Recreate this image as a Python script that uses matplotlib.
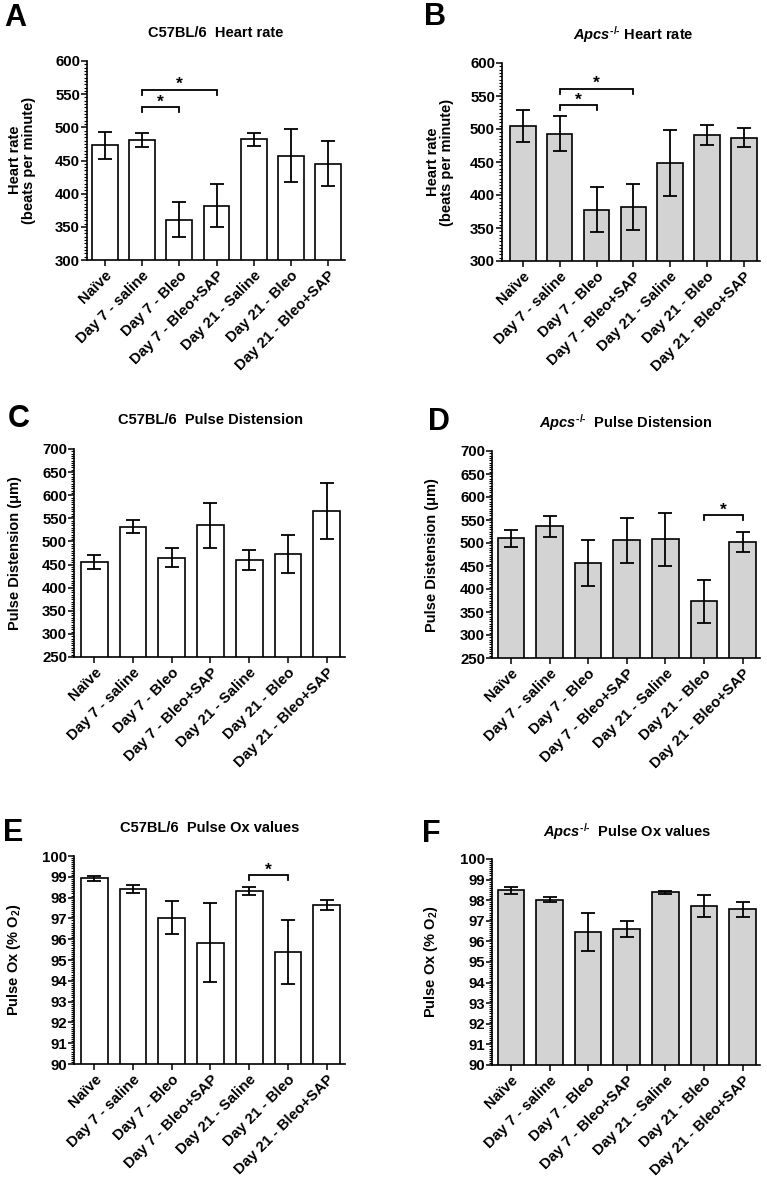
import numpy as np
import matplotlib
matplotlib.use('Agg')
import matplotlib.pyplot as plt
from matplotlib.ticker import MultipleLocator

plt.rcParams['font.family'] = ['Liberation Sans', 'DejaVu Sans']
plt.rcParams['font.weight'] = 'bold'
plt.rcParams['mathtext.fontset'] = 'custom'
plt.rcParams['mathtext.rm'] = 'Liberation Sans:bold'
plt.rcParams['mathtext.it'] = 'Liberation Sans:bold:italic'
plt.rcParams['mathtext.bf'] = 'Liberation Sans:bold'

# grupos
groups = ['Naïve', 'Day 7 - saline', 'Day 7 - Bleo', 'Day 7 - Bleo+SAP',
          'Day 21 - Saline', 'Day 21 - Bleo', 'Day 21 - Bleo+SAP']

# heart rate (beats per minute)
hr_c57 = [473, 481, 361, 382, 482, 457, 445]
hr_c57_err = [20, 11, 27, 32, 10, 40, 34]
hr_apcs = [505, 493, 378, 382, 448, 491, 487]
hr_apcs_err = [24, 27, 34, 35, 50, 15, 14]

# pulse distension (um)
pd_c57 = [455, 532, 465, 535, 460, 472, 566]
pd_c57_err = [15, 14, 20, 49, 21, 41, 60]
pd_apcs = [510, 536, 456, 506, 508, 373, 503]
pd_apcs_err = [18, 22, 50, 49, 57, 46, 22]

# pulse ox (% O2)
ox_c57 = [98.93, 98.43, 97.03, 95.84, 98.32, 95.40, 97.64]
ox_c57_err = [0.12, 0.19, 0.79, 1.89, 0.18, 1.53, 0.23]
ox_apcs = [98.48, 98.02, 96.45, 96.58, 98.39, 97.72, 97.55]
ox_apcs_err = [0.16, 0.12, 0.94, 0.39, 0.08, 0.54, 0.35]

# significancia: (grupo i, grupo j, altura)
sig_a = [(1, 2, 531), (1, 3, 557)]
sig_b = [(1, 2, 536), (1, 3, 561)]
sig_c = []
sig_d = [(5, 6, 561)]
sig_e = [(4, 5, 99.09)]
sig_f = []

W, H = 767, 1179
fig = plt.figure(figsize=(W / 100, H / 100), dpi=100)


def rect(l, r, t, b):
    return [l / W, 1 - b / H, (r - l) / W, (b - t) / H]


def ftext(x, y, s, **kw):
    fig.text(x / W, 1 - y / H, s, ha='center', va='center', **kw)


def draw(box, vals, errs, color, ylo, yhi, major, minor, xl, xr, sigs):
    ax = fig.add_axes(rect(*box))
    x = np.arange(len(groups))
    ax.bar(x, vals, width=0.69, color=color, edgecolor='black', linewidth=1.2, zorder=2)
    ax.errorbar(x, vals, yerr=errs, fmt='none', ecolor='black', elinewidth=1.3,
                capsize=5, capthick=1.3, zorder=3)
    ax.set_ylim(ylo, yhi)
    ax.set_xlim(xl, xr)
    ax.yaxis.set_major_locator(MultipleLocator(major))
    ax.yaxis.set_minor_locator(MultipleLocator(minor))
    ax.set_xticks(x)
    ax.set_xticklabels(groups, rotation=45, ha='right', va='top', rotation_mode='anchor')
    for s in ['top', 'right']:
        ax.spines[s].set_visible(False)
    for s in ['left', 'bottom']:
        ax.spines[s].set_linewidth(1.2)
    ax.tick_params(axis='y', which='major', length=4, width=1.1, labelsize=10.8, pad=1)
    ax.tick_params(axis='y', which='minor', length=2, width=0.8)
    ax.tick_params(axis='x', which='major', length=4, width=1.1, labelsize=10.8, pad=2)
    # corchetes
    drop = (yhi - ylo) * 5 / (box[3] - box[2])
    for i, j, y in sigs:
        ax.plot([i, i, j, j], [y - drop, y, y, y - drop], color='black', lw=1.3,
                solid_joinstyle='miter', clip_on=False, zorder=4)
        ax.text((i + j) / 2, y + drop * 0.1, '*', ha='center', va='baseline', fontsize=12.5)
    return ax


white = 'white'
grey = '#d3d3d3'

draw((87, 345, 61, 260), hr_c57, hr_c57_err, white, 300, 600, 50, 5, -0.48, 6.45, sig_a)
draw((502, 760, 63, 261), hr_apcs, hr_apcs_err, grey, 300, 600, 50, 5, -0.57, 6.44, sig_b)
draw((74, 345, 449, 657), pd_c57, pd_c57_err, white, 250, 700, 50, 5, -0.52, 6.47, sig_c)
draw((492, 760, 451, 658), pd_apcs, pd_apcs_err, grey, 250, 700, 50, 5, -0.49, 6.45, sig_d)
draw((74, 345, 856, 1064), ox_c57, ox_c57_err, white, 90, 100, 1, 0.1, -0.52, 6.47, sig_e)
draw((492, 760, 859, 1065), ox_apcs, ox_apcs_err, grey, 90, 100, 1, 0.1, -0.49, 6.45, sig_f)

# titulos
apcs = r'$\mathit{Apcs}^{\text{-/-}}$'
ftext(216, 33, 'C57BL/6  Heart rate', fontsize=10.5)
ftext(633, 35, apcs + ' Heart rate', fontsize=10.5)
ftext(210, 420, 'C57BL/6  Pulse Distension', fontsize=10.5)
ftext(626, 423, apcs + '  Pulse Distension', fontsize=10.5)
ftext(210, 828, 'C57BL/6  Pulse Ox values', fontsize=10.5)
ftext(627, 832, apcs + '  Pulse Ox values', fontsize=10.5)

# letras de panel
for lx, ly, letra in [(15, 18, 'A'), (435, 17, 'B'), (19, 419, 'C'),
                      (439, 422, 'D'), (13, 833, 'E'), (431, 834, 'F')]:
    ftext(lx, ly, letra, fontsize=22)

# etiquetas eje y
ftext(22, 160, 'Heart rate\n(beats per minute)', fontsize=10.5, rotation=90, linespacing=1.0)
ftext(440, 162, 'Heart rate\n(beats per minute)', fontsize=10.5, rotation=90, linespacing=1.0)
ftext(15, 553, 'Pulse Distension (μm)', fontsize=10.5, rotation=90)
ftext(432, 555, 'Pulse Distension (μm)', fontsize=10.5, rotation=90)
ftext(14, 960, r'Pulse Ox (% O$_2$)', fontsize=10.5, rotation=90)
ftext(431, 962, r'Pulse Ox (% O$_2$)', fontsize=10.5, rotation=90)

fig.savefig('out.png', dpi=100)
